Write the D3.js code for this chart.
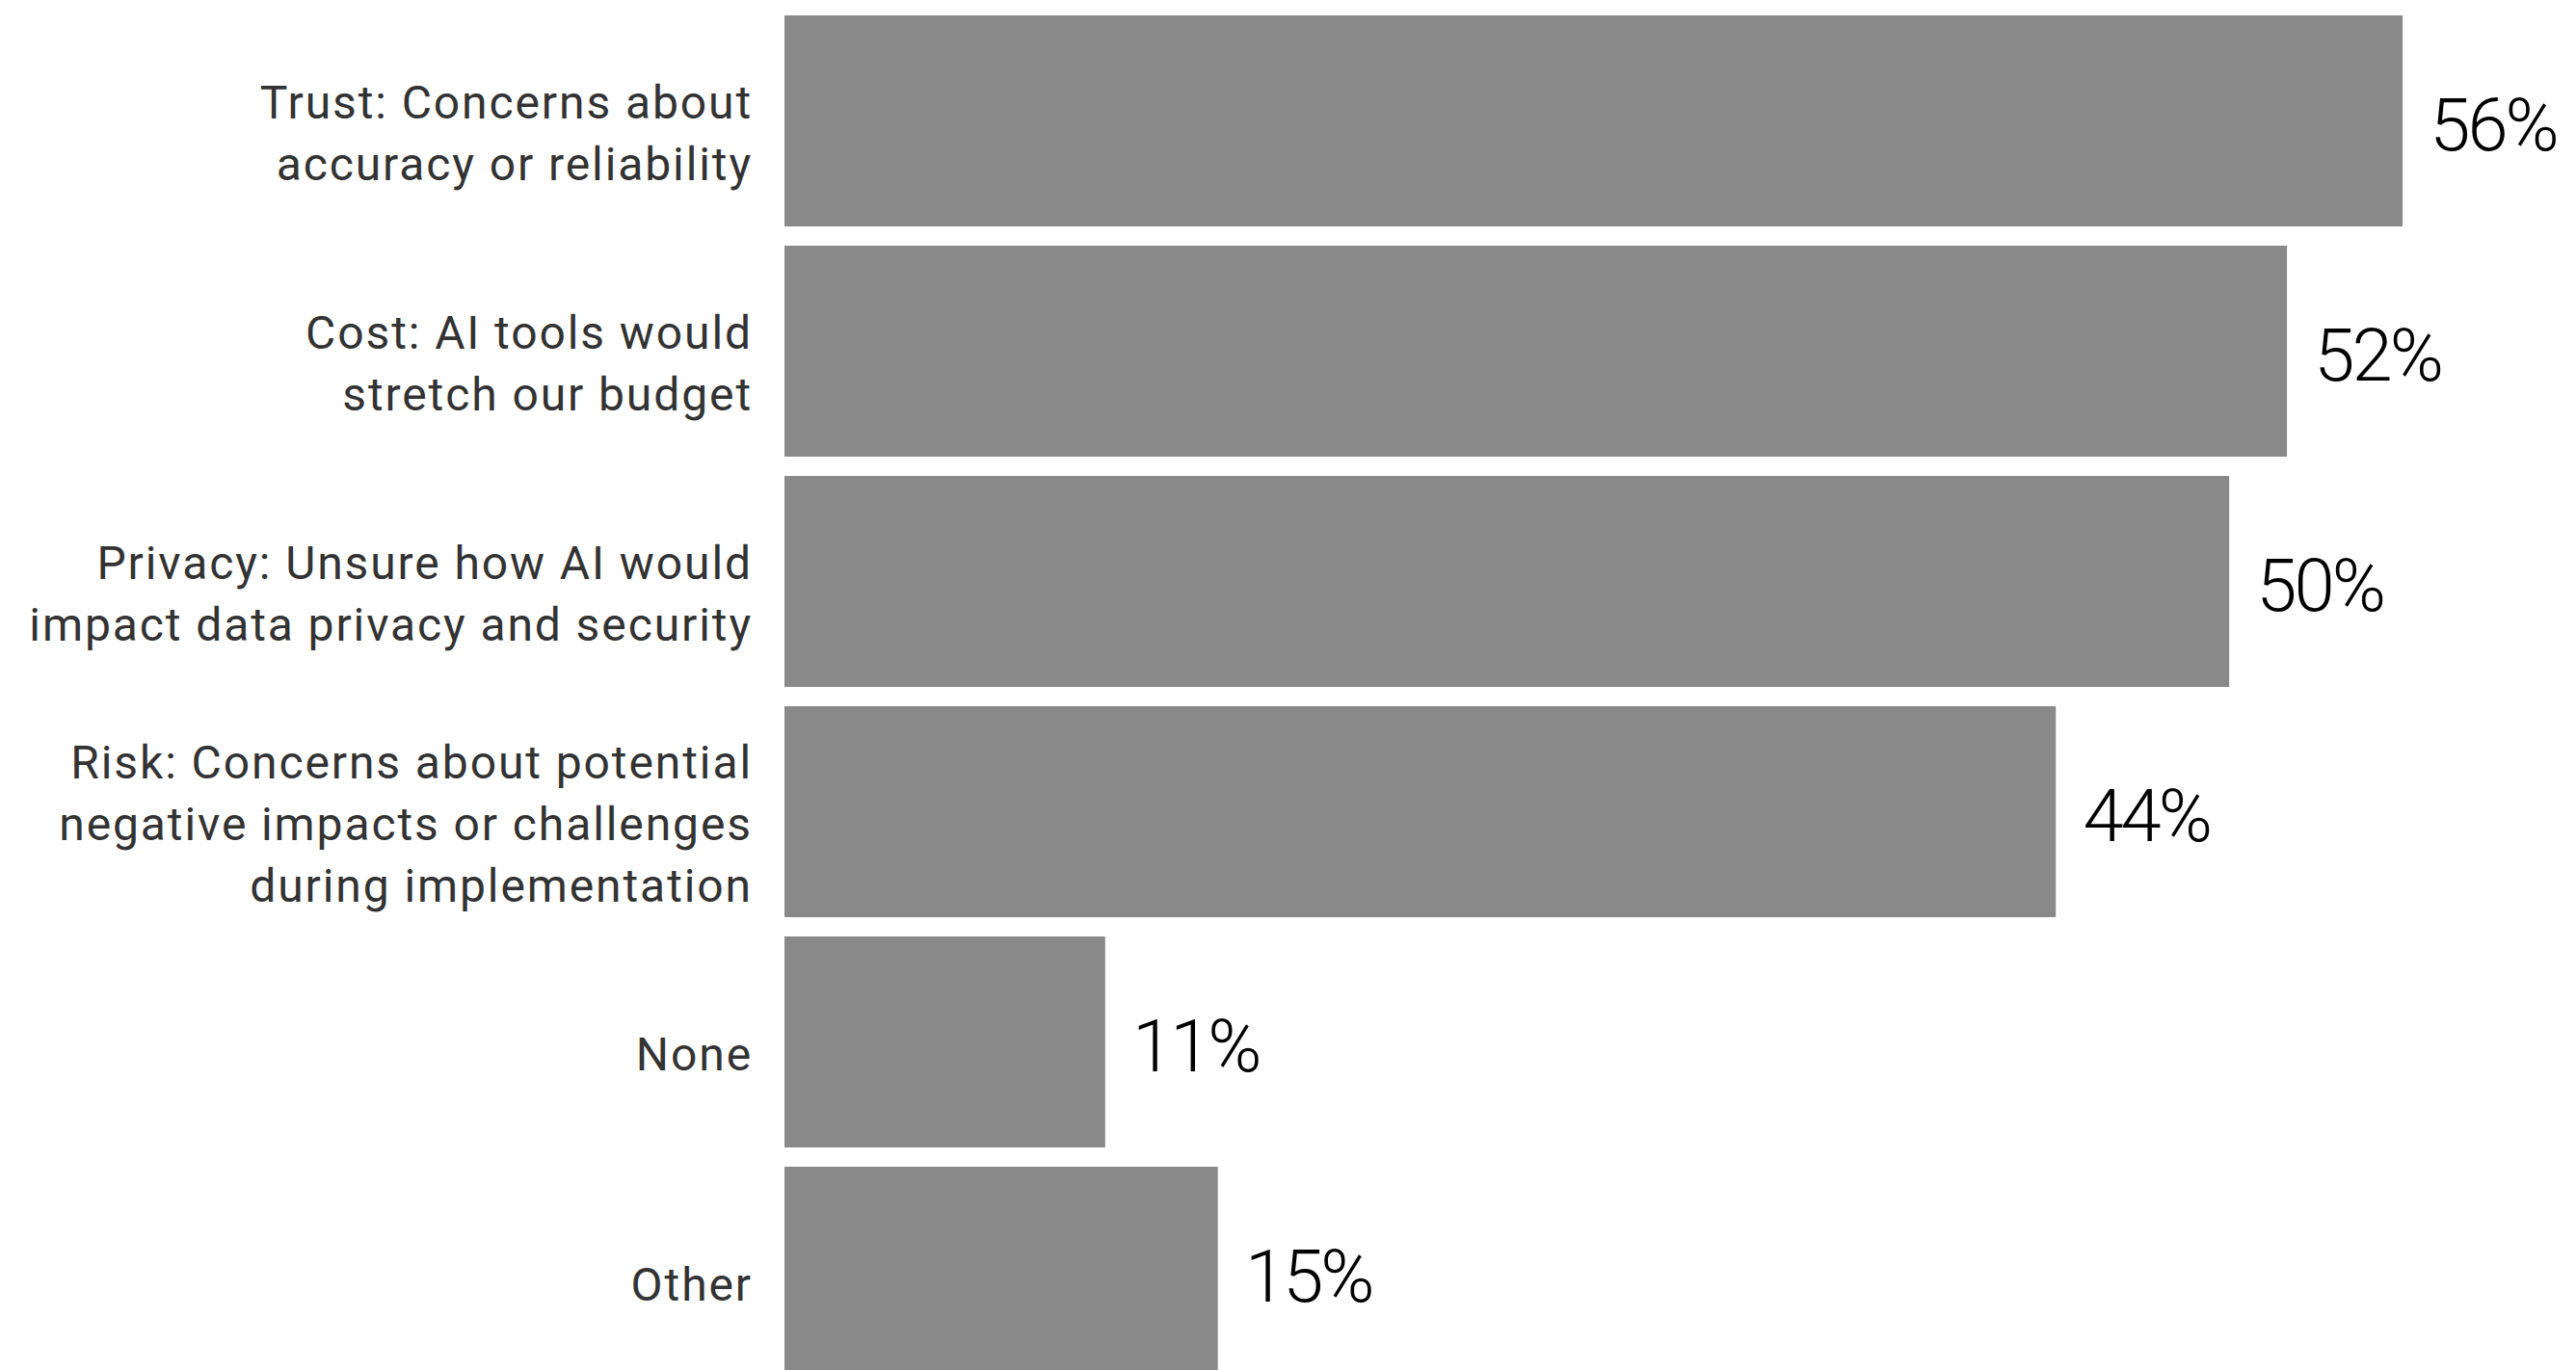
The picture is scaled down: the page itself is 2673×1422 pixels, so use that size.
<!DOCTYPE html>
<html>
<head>
<meta charset="utf-8">
<script src="https://cdn.jsdelivr.net/npm/d3@7"></script>
<style>
  html, body { margin: 0; padding: 0; background: #ffffff; }
  svg { display: block; }
</style>
</head>
<body>
<svg id="chart" width="2673" height="1422"></svg>
<script>
// ---- data ----
const categories = ["Trust", "Cost", "Privacy", "Risk", "None", "Other"];
const categoryLabels = [
  ["Trust: Concerns about", "accuracy or reliability"],
  ["Cost: AI tools would", "stretch our budget"],
  ["Privacy: Unsure how AI would", "impact data privacy and security"],
  ["Risk: Concerns about potential", "negative impacts or challenges", "during implementation"],
  ["None"],
  ["Other"]
];
const values = [56, 52, 50, 44, 11.1, 15];
const valueLabels = ["56%", "52%", "50%", "44%", "11%", "15%"];

// ---- layout ----
const svg = d3.select("#chart");

const x = d3.scaleLinear().domain([0, 56]).range([814, 2493]);
const y = d3.scaleBand()
  .domain(categories)
  .range([6, 1440])
  .paddingInner(20 / 239)
  .paddingOuter(10 / 239);

const rows = categories.map((c, i) => ({
  cat: c, lines: categoryLabels[i], value: values[i], label: valueLabels[i]
}));

// bars
svg.append("g").selectAll("rect")
  .data(rows)
  .join("rect")
  .attr("x", x(0))
  .attr("y", d => y(d.cat))
  .attr("width", d => x(d.value) - x(0))
  .attr("height", y.bandwidth())
  .attr("fill", "#898989");

// category labels
const lineH = 64;
const catG = svg.append("g")
  .attr("font-family", "Roboto, 'Noto Sans', sans-serif")
  .attr("font-size", 48)
  .attr("fill", "#333333")
  .attr("text-anchor", "end");

rows.forEach(d => {
  const cy = y(d.cat) + y.bandwidth() / 2 + 13;
  const n = d.lines.length;
  const t = catG.append("text")
    .attr("x", x(0) - 33)
    .attr("y", cy)
    .style("letter-spacing", "1.9px");
  d.lines.forEach((ln, j) => {
    t.append("tspan")
      .attr("x", x(0) - 33)
      .attr("y", cy + (j - (n - 1) / 2) * lineH)
      .attr("dy", "0.35em")
      .text(ln);
  });
});

// value labels
svg.append("g")
  .attr("font-family", "Roboto, 'Noto Sans', sans-serif")
  .attr("font-weight", 300)
  .attr("font-size", 76)
  .attr("fill", "#000000")
  .attr("text-anchor", "middle")
  .selectAll("text")
  .data(rows)
  .join("text")
  .attr("x", d => x(d.value) + 94)
  .attr("y", d => y(d.cat) + y.bandwidth() / 2 + 3)
  .attr("dy", "0.36em")
  .style("letter-spacing", "-3px")
  .text(d => d.label);
</script>
</body>
</html>
